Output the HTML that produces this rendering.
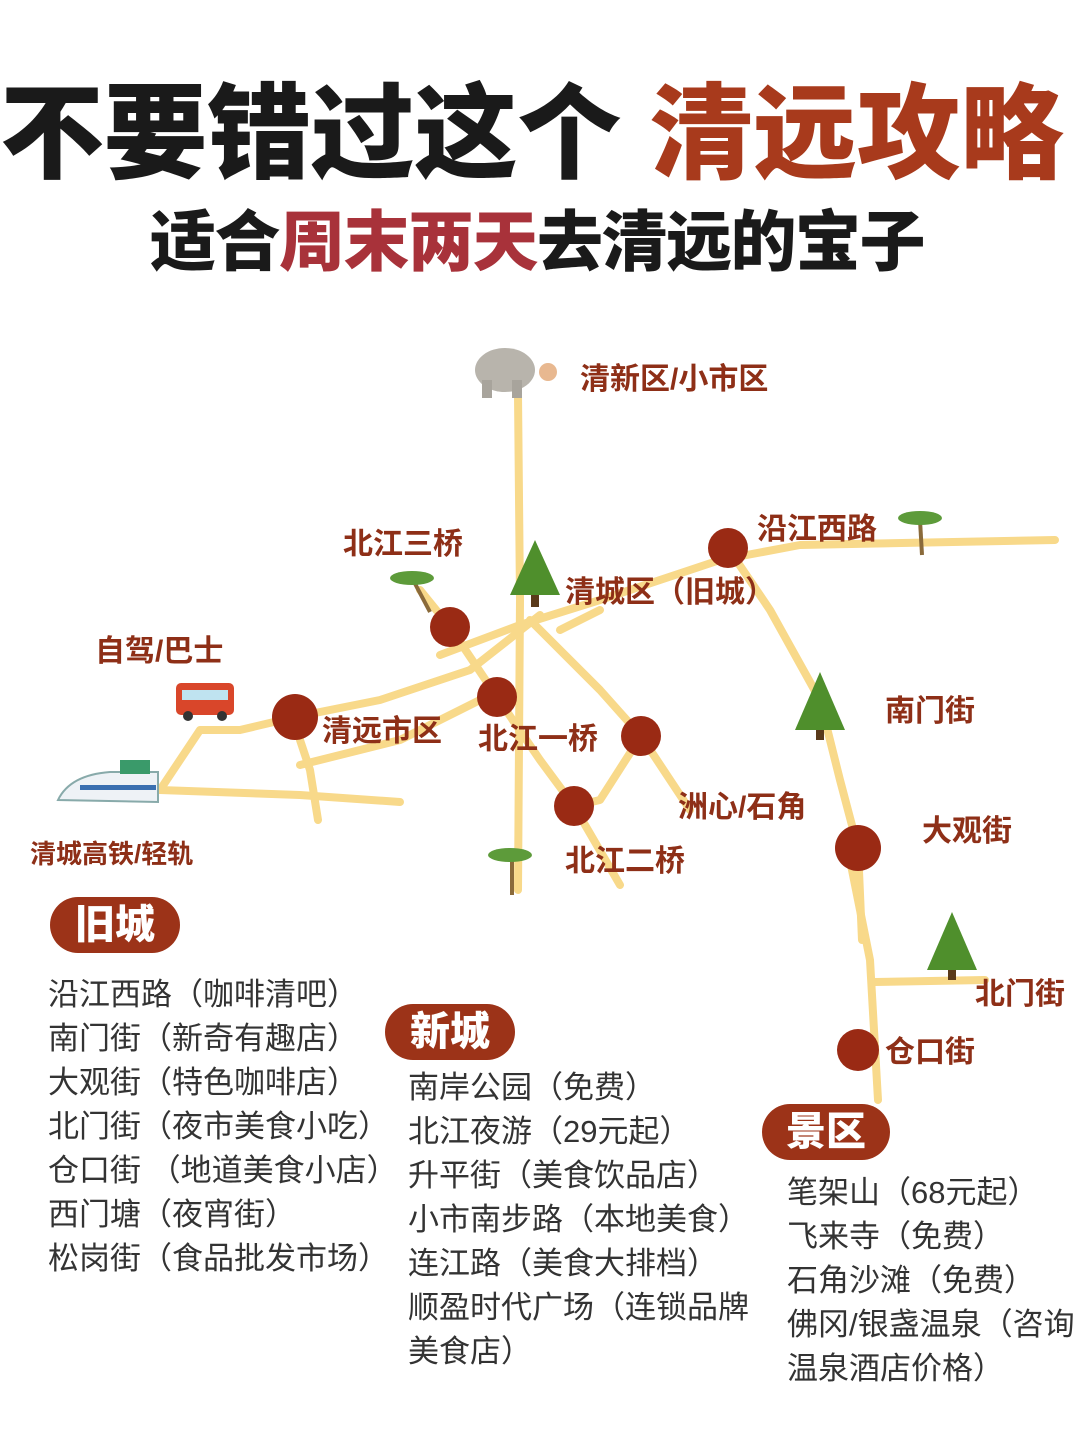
<!DOCTYPE html>
<html><head><meta charset="utf-8"><style>
body{margin:0;width:1080px;height:1440px;background:#fff;position:relative;overflow:hidden;font-family:"Liberation Sans","Noto Sans CJK SC",sans-serif}
.a{position:absolute;white-space:nowrap}
.t1{left:0;top:70px;font-size:104px;font-weight:900;color:#1a1a1a;letter-spacing:-0.5px;line-height:130px}
.t2{left:150px;top:197px;font-size:66px;font-weight:900;color:#1a1a1a;letter-spacing:-1.5px;line-height:90px}
.r{color:#a83a1c}.r2{color:#a8323a}
.l{font-size:30px;font-weight:700;color:#8e2f17;line-height:36px}
.b{background:#9c3318;color:#fff;font-size:40px;font-weight:900;border-radius:28px;text-align:center;line-height:56px;height:56px}
.li{font-size:31px;color:#333;line-height:44px}
</style></head><body>
<div class="a t1">不要错过这个 <span class="r">清远攻略</span></div>
<div class="a t2">适合<span class="r2">周末两天</span>去清远的宝子</div>
<svg class="a" style="left:0;top:0" width="1080" height="1440">
<g fill="none" stroke="#f8d98a" stroke-width="8" stroke-linecap="round" stroke-linejoin="round">
<path d="M518 395 L520 600 L518 890"/>
<path d="M440 655 L520 625 L600 600 L720 560 L800 545 L1055 540"/>
<path d="M728 548 L770 610 L820 700 L840 780 L858 848 L862 940"/>
<path d="M850 860 L870 960 L878 1100"/>
<path d="M875 982 L985 980"/>
<path d="M160 790 L200 730 L240 730 L295 717 L380 700 L470 670 L540 615"/>
<path d="M300 740 L310 770 L318 820"/>
<path d="M160 790 L300 795 L400 802"/>
<path d="M300 765 L400 740 L480 700"/>
<path d="M420 590 L450 627 L497 697 L540 760 L574 806 L620 885"/>
<path d="M530 620 L600 690 L641 736 L690 810"/>
<path d="M641 736 L600 800 L574 806"/>
<path d="M560 630 L600 610"/>
</g>
<g fill="#9a2a14">
<circle cx="728" cy="548" r="20"/><circle cx="450" cy="627" r="20"/><circle cx="295" cy="717" r="23"/>
<circle cx="497" cy="697" r="20"/><circle cx="641" cy="736" r="20"/><circle cx="574" cy="806" r="20"/>
<circle cx="858" cy="848" r="23"/><circle cx="858" cy="1050" r="21"/>
</g>
<g fill="#4f8f2c">
<polygon points="535,540 510,595 560,595"/><polygon points="820,672 795,730 845,730"/><polygon points="952,912 927,970 977,970"/>
</g>
<g fill="#5a3a1a"><rect x="531" y="595" width="8" height="12"/><rect x="816" y="730" width="8" height="10"/><rect x="948" y="970" width="8" height="10"/></g>
<g stroke="#8a6a3a" stroke-width="4"><line x1="412" y1="578" x2="430" y2="612"/><line x1="920" y1="520" x2="922" y2="555"/><line x1="512" y1="855" x2="512" y2="895"/></g>
<g fill="#5d9b3a"><ellipse cx="412" cy="578" rx="22" ry="7"/><ellipse cx="920" cy="518" rx="22" ry="7"/><ellipse cx="510" cy="855" rx="22" ry="7"/></g>
<ellipse cx="505" cy="370" rx="30" ry="22" fill="#b8b4ac"/><rect x="482" y="380" width="10" height="18" fill="#a8a49c"/><rect x="512" y="380" width="10" height="18" fill="#a8a49c"/>
<circle cx="548" cy="372" r="9" fill="#e8b890"/>
<rect x="176" y="683" width="58" height="32" rx="5" fill="#d9462a"/><rect x="182" y="690" width="46" height="10" fill="#bfe3f0"/>
<circle cx="188" cy="716" r="5" fill="#333"/><circle cx="222" cy="716" r="5" fill="#333"/>
<path d="M58 800 Q70 775 110 772 L158 772 L158 802 Z" fill="#eef2f6" stroke="#8aa" stroke-width="2"/>
<rect x="80" y="785" width="76" height="5" fill="#3a6fb0"/>
<rect x="120" y="760" width="30" height="14" fill="#3a9a6a"/>
</svg>
<div class="a l" style="left:580px;top:362px">清新区/小市区</div>
<div class="a l" style="left:343px;top:527px">北江三桥</div>
<div class="a l" style="left:565px;top:575px">清城区（旧城）</div>
<div class="a l" style="left:757px;top:512px">沿江西路</div>
<div class="a l" style="left:95px;top:634px">自驾/巴士</div>
<div class="a l" style="left:322px;top:714px">清远市区</div>
<div class="a l" style="left:478px;top:722px">北江一桥</div>
<div class="a l" style="left:885px;top:694px">南门街</div>
<div class="a l" style="left:678px;top:790px">洲心/石角</div>
<div class="a l" style="left:922px;top:814px">大观街</div>
<div class="a l" style="left:565px;top:844px">北江二桥</div>
<div class="a l" style="left:30px;top:836px;font-size:26px">清城高铁/轻轨</div>
<div class="a l" style="left:975px;top:977px">北门街</div>
<div class="a l" style="left:885px;top:1035px">仓口街</div>
<div class="a b" style="left:50px;top:897px;width:130px">旧城</div>
<div class="a b" style="left:385px;top:1004px;width:130px">新城</div>
<div class="a b" style="left:762px;top:1104px;width:128px">景区</div>
<div class="a li" style="left:48px;top:973px">沿江西路（咖啡清吧）<br>南门街（新奇有趣店）<br>大观街（特色咖啡店）<br>北门街（夜市美食小吃）<br>仓口街 （地道美食小店）<br>西门塘（夜宵街）<br>松岗街（食品批发市场）</div>
<div class="a li" style="left:408px;top:1066px">南岸公园（免费）<br>北江夜游（29元起）<br>升平街（美食饮品店）<br>小市南步路（本地美食）<br>连江路（美食大排档）<br>顺盈时代广场（连锁品牌<br>美食店）</div>
<div class="a li" style="left:787px;top:1171px">笔架山（68元起）<br>飞来寺（免费）<br>石角沙滩（免费）<br>佛冈/银盏温泉（咨询<br>温泉酒店价格）</div>
</body></html>
